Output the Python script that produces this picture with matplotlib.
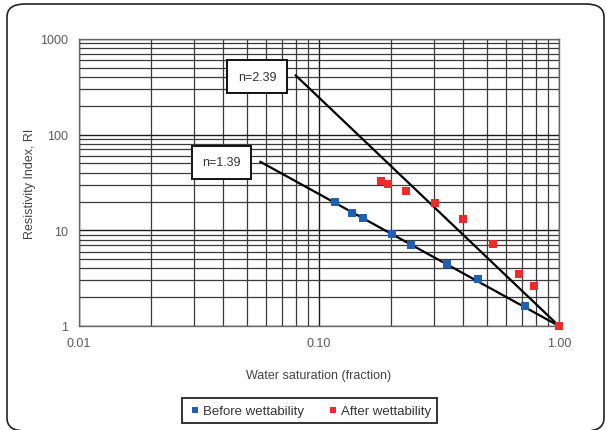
import matplotlib
matplotlib.use("Agg")
import matplotlib.pyplot as plt
from matplotlib.patches import FancyBboxPatch
from matplotlib.ticker import LogLocator, FixedLocator, FixedFormatter, NullFormatter

plt.rcParams['font.family'] = ['Liberation Sans', 'DejaVu Sans']

# Data
before_sw = [0.117, 0.137, 0.153, 0.202, 0.241, 0.341, 0.46, 0.719, 1.0]
before_ri = [19.9, 15.1, 13.3, 9.2, 7.0, 4.5, 3.1, 1.61, 1.0]
after_sw = [0.182, 0.193, 0.231, 0.303, 0.399, 0.529, 0.68, 0.785, 1.0]
after_ri = [32.4, 30.4, 25.9, 19.5, 13.0, 7.2, 3.5, 2.6, 1.0]
line239_sw = [0.08, 1.0]
line239_ri = [416, 1.0]
line139_sw = [0.057, 1.0]
line139_ri = [52, 1.0]
x_ticks = [0.01, 0.1, 1.0]
x_ticklabels = ['0.01', '0.10', '1.00']
y_ticks = [1, 10, 100, 1000]
y_ticklabels = ['1', '10', '100', '1000']

W, H = 606, 431
fig = plt.figure(figsize=(W / 100, H / 100), dpi=100)

# outer rounded border
border = FancyBboxPatch((7 / W, 1 - 432 / H), (604 - 7) / W, (432 - 5) / H,
                        boxstyle="round,pad=0,rounding_size=0.03",
                        transform=fig.transFigure, facecolor='none',
                        edgecolor='#222222', linewidth=1.2, zorder=0)
fig.patches.append(border)

ax = fig.add_axes([79 / W, 1 - 327 / H, 480 / W, 287 / H])
ax.set_zorder(2)
ax.set_xscale('log')
ax.set_yscale('log')
ax.set_xlim(0.01, 1.0)
ax.set_ylim(1, 1000)

ax.xaxis.set_major_locator(FixedLocator(x_ticks))
ax.xaxis.set_major_formatter(FixedFormatter(x_ticklabels))
ax.xaxis.set_minor_locator(LogLocator(base=10, subs=range(2, 10)))
ax.xaxis.set_minor_formatter(NullFormatter())
ax.yaxis.set_major_locator(FixedLocator(y_ticks))
ax.yaxis.set_major_formatter(FixedFormatter(y_ticklabels))
ax.yaxis.set_minor_locator(LogLocator(base=10, subs=range(2, 10)))
ax.yaxis.set_minor_formatter(NullFormatter())

ax.grid(True, which='major', color='#1a1a1a', linewidth=1.0)
ax.grid(True, which='minor', color='#3a3a3a', linewidth=0.9)
ax.tick_params(which='both', length=0, labelsize=9, colors='#5a5a5a', pad=8)
for s in ax.spines.values():
    s.set_color('#666666')
    s.set_linewidth(1.0)

ax.plot(line239_sw, line239_ri, color='black', linewidth=1.6, zorder=3, clip_on=False)
ax.plot(line139_sw, line139_ri, color='black', linewidth=1.6, zorder=3, clip_on=False)

ax.scatter(before_sw, before_ri, marker='s', s=26, color='#1f5fb4', zorder=4,
           label='Before wettability', linewidths=0, clip_on=False)
ax.scatter(after_sw, after_ri, marker='s', s=26, color='#ee2b2b', zorder=5,
           label='After wettability', linewidths=0, clip_on=False)

bbox = dict(boxstyle='square,pad=0.85', facecolor='white', edgecolor='#111111', linewidth=1.4)
ax.text(0.371, 0.869, 'n=2.39', transform=ax.transAxes, ha='center', va='center',
        fontsize=9, color='#333333', bbox=bbox, zorder=6)
ax.text(0.297, 0.570, 'n=1.39', transform=ax.transAxes, ha='center', va='center',
        fontsize=9, color='#333333', bbox=bbox, zorder=6)

ax.set_xlabel('Water saturation (fraction)', fontsize=9, color='#444444', labelpad=14)
ax.set_ylabel('Resistivity Index, RI', fontsize=9, color='#444444', labelpad=3)

leg = fig.legend(loc='center', bbox_to_anchor=(309.5 / W, 1 - 411.5 / H), ncol=2,
                 fontsize=9.5, frameon=True, fancybox=False, handletextpad=0.1,
                 columnspacing=1.7, handlelength=1.0, markerscale=0.8,
                 borderpad=0.45, borderaxespad=0)
leg.get_frame().set_edgecolor('black')
leg.get_frame().set_linewidth(1.4)
for t in leg.get_texts():
    t.set_color('#333333')

fig.savefig('out.png', dpi=100)
